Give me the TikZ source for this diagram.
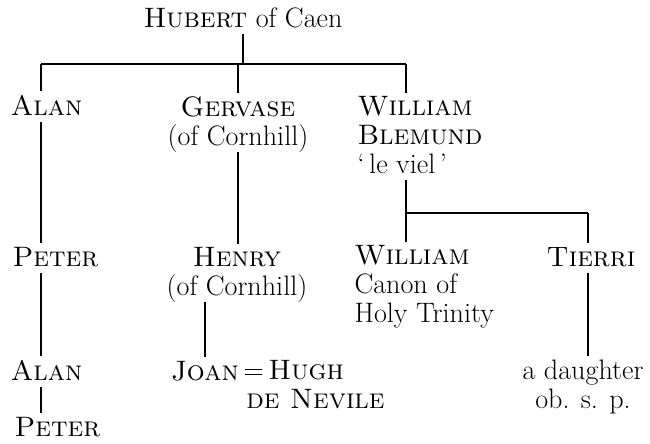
\documentclass[tikz,border=0pt]{standalone}
\usetikzlibrary{positioning}
\tikzset{
 person/.style={inner sep=0pt, outer sep=2.5pt, text depth=0.25em,
   font=\fontsize{20}{20.4}\selectfont},
 stem/.style={line width=1.2pt},
}
\begin{document}
\begin{tikzpicture}
 \def\u{0.025cm}

 \begin{scope} [x = {(\u,0)}, y = {(0,-\u)}]
  \useasboundingbox (0,0) rectangle (650,443);

  %1st generation
  \node(hubert)[person,anchor=base] at (243,27) {\textsc{Hubert} of Caen};

  %2nd generation (base = last line)
  \node(alanA)[person,anchor=base west] at (7,115) {\textsc{Alan}};
  \node(gervase)[person,anchor=base,align=center] at (238,145) {\textsc{Gervase}\\(of Cornhill)};
  \node(williamA)[person,anchor=base west,align=left] at (354,173) {\textsc{William}\\\textsc{Blemund}\\`\,le viel\,'};

  %3rd generation
  \node(peterA)[person,anchor=base west] at (9,266) {\textsc{Peter}};
  \node(henry)[person,anchor=base,align=center] at (237,295) {\textsc{Henry}\\(of Cornhill)};
  \node(williamB)[person,anchor=base west,align=left] at (351,322) {\textsc{William}\\Canon of\\Holy Trinity};
  \node(tierri)[person,anchor=base] at (591,266) {\textsc{Tierri}};

  %4th generation
  \node(alanB)[person,anchor=base west] at (7,380) {\textsc{Alan}};
  \node(joan)[person,anchor=base west] at (167.5,380) {\textsc{Joan}};
  \node(hugh)[person,anchor=base west,align=left] at (240,408) {=\,\textsc{Hugh}\\\hspace*{2pt}\textsc{de Nevile}};
  \node(daughter)[person,anchor=base,align=center] at (583,408) {a daughter\\ob. s. p.};

  %5th generation
  \node(peterB)[person,anchor=base west] at (11,436) {\textsc{Peter}};

  %bars
  \path coordinate (barL) at (41,64)
  coordinate (barR) at (406,64)
  coordinate (barW) at (406,213)
  coordinate (barT) at (588,213);

  \draw[stem] (hubert.south) -- (hubert.south |- barL);
  \draw[stem] (barL) -- (barR);
  \draw[stem] (barL) -- (barL |- alanA.north);
  \draw[stem] (gervase.north |- barL) -- (gervase.north);
  \draw[stem] (barR) -- (barR |- williamA.north);

  \draw[stem] (barW |- williamA.south) -- (barW);
  \draw[stem] (barW) -- (barT);
  \draw[stem] (barW) -- (barW |- williamB.north);
  \draw[stem] (barT) -- (barT |- tierri.north);

  \draw[stem] (barL |- alanA.south) -- (barL |- peterA.north);
  \draw[stem] (gervase.south) -- (gervase.south |- henry.north);
  \draw[stem] (barL |- peterA.south) -- (barL |- alanB.north);
  \draw[stem] (joan.north |- henry.south) -- (joan.north);
  \draw[stem] (barT |- tierri.south) -- (barT |- daughter.north);
  \draw[stem] (barL |- alanB.south) -- (barL |- peterB.north);

 \end{scope}
\end{tikzpicture}
\end{document}
